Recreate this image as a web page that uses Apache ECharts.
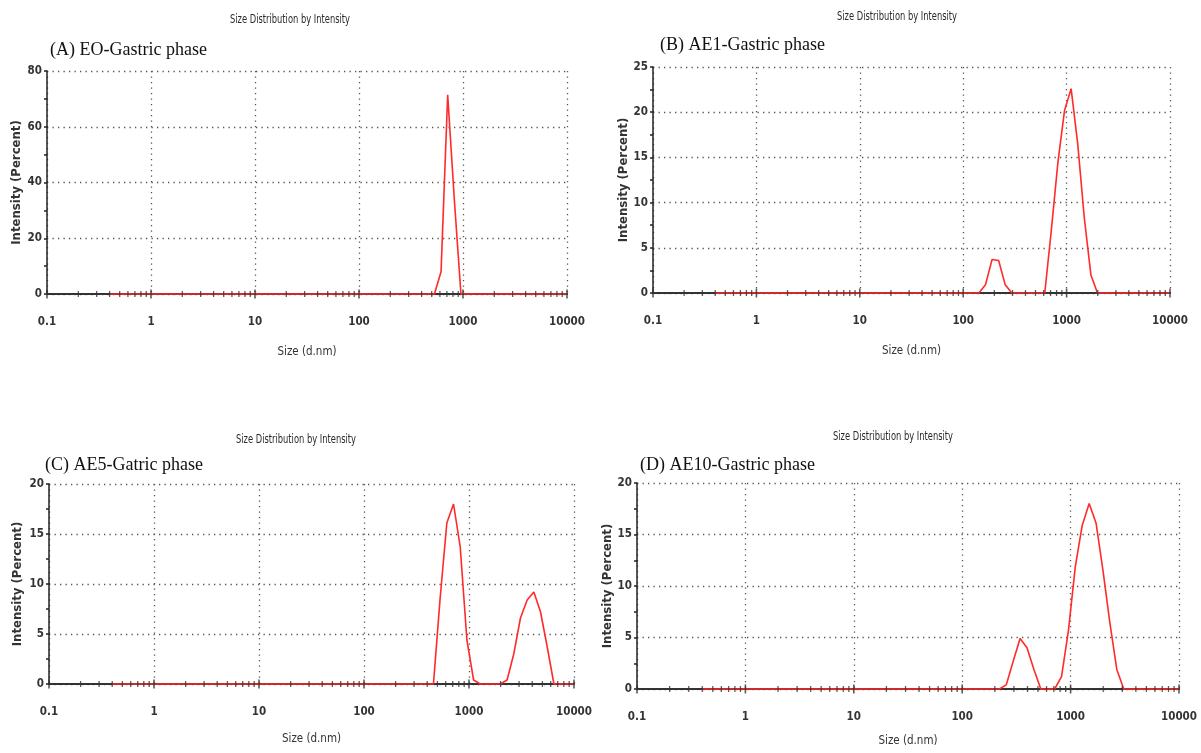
<!DOCTYPE html>
<html>
<head>
<meta charset="utf-8">
<script src="https://cdn.jsdelivr.net/npm/echarts@6/dist/echarts.min.js"></script>
<style>
  html, body { margin: 0; padding: 0; background: #ffffff; }
  #chart { width: 1201px; height: 753px; }
</style>
</head>
<body>
<div id="chart"></div>
<script>
// Size distribution by intensity (DLS) for four gastric-phase samples.

// Decade tick labels of the size axis (d.nm)
const sizeTickLabels = [0.1, 1, 10, 100, 1000, 10000];
// Intermediate log ticks drawn across the size axis
const sizeMinorTicks = [
  0.2, 0.3, 0.4, 0.5, 0.6, 0.7, 0.8, 0.9,
  2, 3, 4, 5, 6, 7, 8, 9,
  20, 30, 40, 50, 60, 70, 80, 90,
  200, 300, 400, 500, 600, 700, 800, 900,
  2000, 3000, 4000, 5000, 6000, 7000, 8000, 9000
];

// (A) EO - gastric phase
const sizesA = [0.4, 531.2, 615.1, 712.4, 825.0, 955.4, 10000];
const intensityA = [0, 0, 8.0, 71.5, 34.0, 0, 0];

// (B) AE1 - gastric phase
const sizesB = [0.4, 141.8, 164.2, 190.1, 220.2, 255.0, 295.3,
                615.1, 712.4, 825.0, 955.4, 1106, 1281, 1484, 1718, 1990, 10000];
const intensityB = [0, 0, 0.9, 3.7, 3.6, 0.9, 0,
                    0, 7.0, 14.5, 20.2, 22.6, 16.5, 8.3, 2.0, 0, 0];

// (C) AE5 - gastric phase
const sizesC = [0.4, 458.7, 531.2, 615.1, 712.4, 825.0, 955.4, 1106, 1281,
                1990, 2305, 2669, 3091, 3580, 4145, 4801, 5560, 6439, 10000];
const intensityC = [0, 0, 8.6, 16.1, 18.0, 13.7, 4.4, 0.4, 0,
                    0, 0.4, 3.0, 6.6, 8.4, 9.2, 7.2, 3.7, 0, 0];

// (D) AE10 - gastric phase
const sizesD = [0.4, 220.2, 255.0, 295.3, 342.0, 396.1, 458.7, 531.2,
                712.4, 825.0, 955.4, 1106, 1281, 1484, 1718, 1990, 2305, 2669, 3091, 10000];
const intensityD = [0, 0, 0.4, 2.7, 4.9, 4.0, 1.9, 0,
                    0, 1.2, 5.7, 11.9, 15.9, 18.0, 16.1, 11.5, 6.4, 1.9, 0, 0];

const chartTitle = 'Size Distribution by Intensity';
const xName = 'Size (d.nm)';
const yName = 'Intensity (Percent)';

const NARROW = "'Liberation Sans Narrow', 'Arial Narrow', 'DejaVu Sans Condensed', sans-serif";
const SERIF = "'Liberation Serif', 'Times New Roman', serif";

const panels = [
  { label: '(A) EO-Gastric phase', sizes: sizesA, values: intensityA, yMax: 80, yStep: 20,
    grid: { left: 47, top: 71, width: 520, height: 223 },
    titleAt: [290, 20], labelAt: [50, 41], xGap: 52, yGap: 24 },
  { label: '(B) AE1-Gastric phase', sizes: sizesB, values: intensityB, yMax: 25, yStep: 5,
    grid: { left: 653, top: 67, width: 517, height: 226 },
    titleAt: [897, 17], labelAt: [660, 36], xGap: 52, yGap: 22 },
  { label: '(C) AE5-Gatric phase', sizes: sizesC, values: intensityC, yMax: 20, yStep: 5,
    grid: { left: 49, top: 484, width: 525, height: 200 },
    titleAt: [296, 440], labelAt: [45, 456], xGap: 49, yGap: 25 },
  { label: '(D) AE10-Gastric phase', sizes: sizesD, values: intensityD, yMax: 20, yStep: 5,
    grid: { left: 637, top: 483, width: 542, height: 206 },
    titleAt: [893, 437], labelAt: [640, 456], xGap: 46, yGap: 23 }
];

const gridLine = { show: true, lineStyle: { color: '#555', width: 1.3, type: [1.3, 4.2] } };
const labelText = { color: '#333', fontFamily: NARROW, fontWeight: 'bold', fontSize: 11.5 };

const option = {
  animation: false,
  backgroundColor: '#ffffff',
  title: [],
  graphic: [],
  grid: [],
  xAxis: [],
  yAxis: [],
  series: []
};

panels.forEach((p, i) => {
  // narrow instrument-style heading, compressed horizontally
  option.graphic.push({
    type: 'text', x: p.titleAt[0], y: p.titleAt[1], scaleX: 0.74, silent: true,
    style: { text: chartTitle, fill: '#2a2a2a', font: "12.5px " + NARROW, align: 'center', verticalAlign: 'middle' }
  });
  option.title.push({
    text: p.label, left: p.labelAt[0], top: p.labelAt[1], padding: 0,
    textStyle: { fontFamily: SERIF, fontSize: 18, fontWeight: 'normal', color: '#111' }
  });

  option.grid.push(Object.assign({ containLabel: false }, p.grid));

  option.xAxis.push({
    type: 'log', logBase: 10, gridIndex: i,
    min: sizeTickLabels[0], max: sizeTickLabels[sizeTickLabels.length - 1],
    name: xName, nameLocation: 'middle', nameGap: p.xGap,
    nameTextStyle: { fontFamily: NARROW, fontSize: 11.5, fontWeight: 'normal', color: '#333' },
    axisLine: { show: true, lineStyle: { color: '#333', width: 2 } },
    axisTick: { show: false },
    axisLabel: Object.assign({ margin: 22,
      formatter: v => sizeTickLabels.find(t => Math.abs(Math.log10(t) - Math.log10(v)) < 1e-6) !== undefined ? String(v) : '' },
      labelText),
    splitLine: gridLine
  });

  option.yAxis.push({
    type: 'value', gridIndex: i, min: 0, max: p.yMax, interval: p.yStep,
    name: yName, nameLocation: 'middle', nameGap: p.yGap,
    nameTextStyle: { fontFamily: NARROW, fontSize: 13, fontWeight: 'bold', color: '#333' },
    axisLine: { show: true, lineStyle: { color: '#222', width: 1.5 } },
    axisTick: { show: true, length: 3, lineStyle: { color: '#222', width: 1.5 } },
    minorTick: { show: true, splitNumber: 2, length: 3, lineStyle: { color: '#222', width: 1.5 } },
    axisLabel: Object.assign({ margin: 5 }, labelText),
    splitLine: gridLine
  });

  // intensity curve
  option.series.push({
    type: 'line', xAxisIndex: i, yAxisIndex: i,
    data: p.sizes.map((s, k) => [s, p.values[k]]),
    showSymbol: false, clip: false, z: 3,
    lineStyle: { color: '#ff2a2a', width: 1.6 },
    itemStyle: { color: '#ff2a2a' }
  });

  // tick marks crossing the size axis
  option.series.push({
    type: 'scatter', xAxisIndex: i, yAxisIndex: i,
    data: sizeMinorTicks.map(t => [t, 0]),
    symbol: 'rect', symbolSize: [1.3, 6], clip: false, z: 4, silent: true,
    itemStyle: { color: '#333' }
  });
  option.series.push({
    type: 'scatter', xAxisIndex: i, yAxisIndex: i,
    data: sizeTickLabels.map(t => [t, 0]),
    symbol: 'rect', symbolSize: [1.6, 9], clip: false, z: 4, silent: true,
    itemStyle: { color: '#333' }
  });
});

const chart = echarts.init(document.getElementById('chart'), null, { renderer: 'canvas' });
chart.setOption(option);
</script>
</body>
</html>
